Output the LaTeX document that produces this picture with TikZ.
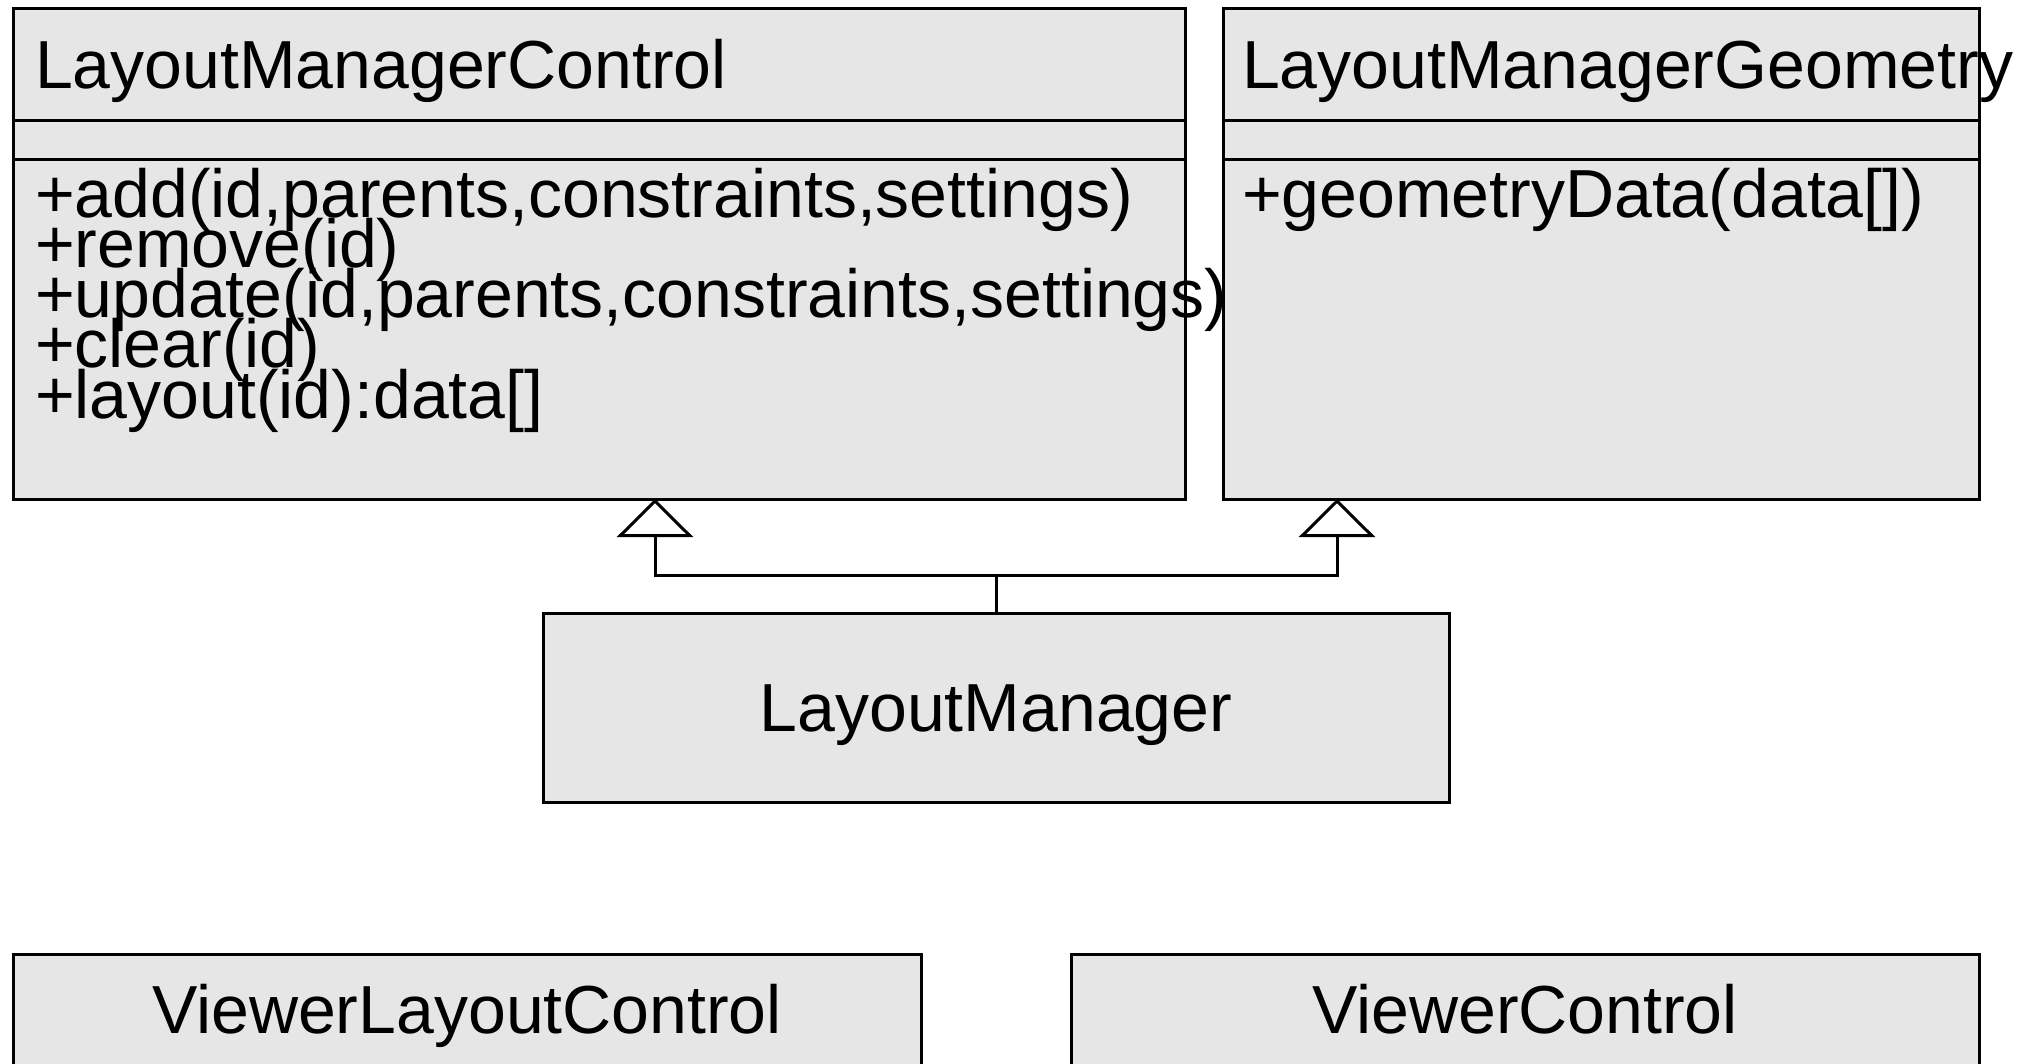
\documentclass[tikz,border=0pt]{standalone}
\usepackage{fontspec}
\setmainfont{Liberation Sans}
\usetikzlibrary{arrows.meta}
\definecolor{boxfill}{RGB}{230,230,230}
\begin{document}
\begin{tikzpicture}[x=1pt,y=-1pt,
  umlbox/.style={draw=black,fill=boxfill,line width=3pt,inner sep=0pt,outer sep=0pt,anchor=north west},
  divline/.style={draw=black,line width=3pt},
  txt/.style={inner sep=0pt,outer sep=0pt,font=\fontsize{68}{50}\selectfont},
  gentip/.tip={Triangle[open,length=38pt,width=76pt,line width=3pt]},
  link/.style={draw=black,line width=3pt}]
\useasboundingbox[fill=white] (0,0) rectangle (2029,1064);
% LayoutManagerControl
\node[umlbox,minimum width=1172pt,minimum height=490pt] (lmc) at (13,9) {};
\draw[divline] (13,121) -- (1185,121);
\draw[divline] (13,160) -- (1185,160);
% LayoutManagerGeometry
\node[umlbox,minimum width=756pt,minimum height=490pt] (lmg) at (1223,9) {};
\draw[divline] (1223,121) -- (1979,121);
\draw[divline] (1223,160) -- (1979,160);
% LayoutManager
\node[umlbox,minimum width=906pt,minimum height=189pt] (lm) at (543,613) {};
% bottom boxes
\node[umlbox,minimum width=908pt,minimum height=130pt] (vlc) at (13,954) {};
\node[umlbox,minimum width=908pt,minimum height=130pt] (vc) at (1071,954) {};
% texts
\node[txt,anchor=base west] (t1) at (35,89) {LayoutManagerControl};
\node[txt,anchor=base west] (m1) at (35,218) {+add(id,parents,constraints,settings)};
\node[txt,anchor=base west] (m2) at (35,268) {+remove(id)};
\node[txt,anchor=base west] (m3) at (35,318) {+update(id,parents,constraints,settings)};
\node[txt,anchor=base west] (m4) at (35,368) {+clear(id)};
\node[txt,anchor=base west] (m5) at (35,418) {+layout(id):data[]};
\node[txt,anchor=base west] (t2) at (1242,89) {LayoutManagerGeometry};
\node[txt,anchor=base west] (g1) at (1242,218) {+geometryData(data[])};
\node[txt,anchor=base] (t3) at (996,731) {LayoutManager};
\node[txt,anchor=base] (t4) at (467,1033) {ViewerLayoutControl};
\node[txt,anchor=base] (t5) at (1525,1033) {ViewerControl};
% generalizations
\coordinate (j) at (996,575);
\coordinate (a1) at (655,499);
\coordinate (a2) at (1337,499);
\draw[link] (lm.north) -- (lm.north |- j);
\draw[link,gentip-gentip] (a1) |- (j) -| (a2);
\end{tikzpicture}
\end{document}
